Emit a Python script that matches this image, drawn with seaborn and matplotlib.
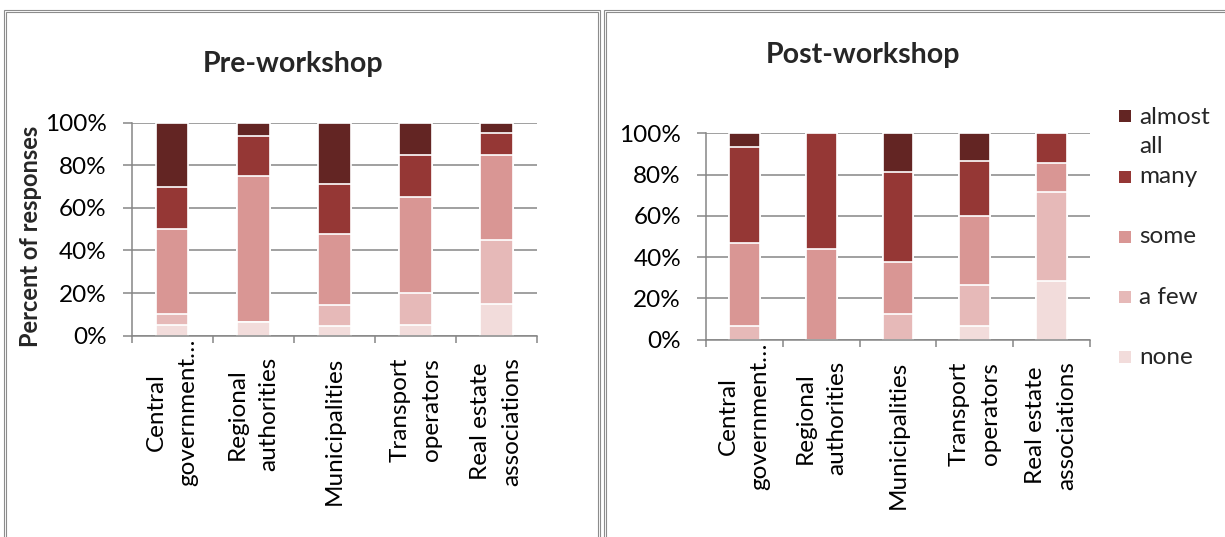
import matplotlib
matplotlib.use("Agg")
import matplotlib.pyplot as plt
from matplotlib.patches import Rectangle
from matplotlib.ticker import PercentFormatter, FixedLocator
import numpy as np
import pandas as pd
import seaborn as sns

# ---- data -----------------------------------------------------------------
categories = ["Central\ngovernment…", "Regional\nauthorities", "Municipalities",
              "Transport\noperators", "Real estate\nassociations"]
levels = ["none", "a few", "some", "many", "almost all"]          # bottom -> top

pre_none       = [5.00, 6.25, 4.76, 5.00, 15.00]
pre_a_few      = [5.00, 0.00, 9.52, 15.00, 30.00]
pre_some       = [40.00, 68.75, 33.33, 45.00, 40.00]
pre_many       = [20.00, 18.75, 23.81, 20.00, 10.00]
pre_almost_all = [30.00, 6.25, 28.57, 15.00, 5.00]

post_none       = [0.00, 0.00, 0.00, 6.67, 28.57]
post_a_few      = [6.67, 0.00, 12.50, 20.00, 42.86]
post_some       = [40.00, 43.75, 25.00, 33.33, 14.29]
post_many       = [46.67, 56.25, 43.75, 26.67, 14.29]
post_almost_all = [6.67, 0.00, 18.75, 13.33, 0.00]

y_ticks = [0, 20, 40, 60, 80, 100]

level_colors = {"almost all": "#632523", "many": "#953735", "some": "#D99694",
                "a few": "#E6B9B8", "none": "#F2DCDB"}
legend_labels = {"almost all": "almost\nall"}

# ---- style ------------------------------------------------------------------
sns.set_theme(style="white")
plt.rcParams["font.family"] = ["Lato", "DejaVu Sans"]
GRID = "#868686"
FS = 17.5

W, H = 1225, 537
fig = plt.figure(figsize=(W / 100, H / 100), dpi=100)


def fx(px):
    return px / W


def fy(py):
    return 1 - py / H


def long_table(none, a_few, some, many, almost_all):
    cols = dict(zip(levels, [none, a_few, some, many, almost_all]))
    rows = []
    for i, cat in enumerate(categories):
        for lev in levels:
            rows.append({"category": cat, "level": lev, "pct": cols[lev][i]})
    df = pd.DataFrame(rows)
    df["top"] = df.groupby("category", sort=False)["pct"].cumsum()
    return df


def draw_panel(ax, df, first_label_lift):
    # stacked bars: paint cumulative totals from the top level down
    for lev in reversed(levels):
        part = df[df["level"] == lev]
        sns.barplot(data=part, x="category", y="top", order=categories,
                    color=level_colors[lev], saturation=1, width=0.40,
                    edgecolor="white", linewidth=1.2, errorbar=None, ax=ax)
    ax.set_xlabel("")
    ax.set_ylabel("")
    ax.set_ylim(0, 100)
    ax.set_xlim(-0.5, len(categories) - 0.5)
    ax.yaxis.set_major_locator(FixedLocator(y_ticks))
    ax.yaxis.set_major_formatter(PercentFormatter(decimals=0))
    ax.set_xticks(np.arange(-0.5, len(categories), 1.0), minor=True)
    ax.set_axisbelow(True)
    ax.yaxis.grid(True, color=GRID, linewidth=1.1)
    ax.xaxis.grid(False)
    for side in ("top", "right"):
        ax.spines[side].set_visible(False)
    for side in ("left", "bottom"):
        ax.spines[side].set_color(GRID)
        ax.spines[side].set_linewidth(1.1)
    ax.tick_params(axis="y", which="major", direction="out", length=6.5,
                   width=1.1, color=GRID, labelsize=FS, pad=11.5,
                   left=True, labelcolor="black")
    ax.tick_params(axis="x", which="major", length=0, labelsize=FS, pad=15.5,
                   labelcolor="black", labelrotation=90)
    ax.tick_params(axis="x", which="minor", direction="out", length=5,
                   width=1.1, color=GRID, bottom=True)
    for lab in ax.get_xticklabels():
        lab.set_multialignment("center")
        lab.set_linespacing(1.6)
        lab.set_va("top")
    ax.get_xticklabels()[0].set_y(first_label_lift)


ax_pre = fig.add_axes([fx(131.7), fy(335.7), (537 - 131.7) / W, (335.7 - 122.7) / H])
ax_post = fig.add_axes([fx(706), fy(339.7), (1090 - 706) / W, (339.7 - 133.3) / H])

draw_panel(ax_pre, long_table(pre_none, pre_a_few, pre_some, pre_many, pre_almost_all),
           19 / 213)
draw_panel(ax_post, long_table(post_none, post_a_few, post_some, post_many, post_almost_all),
           18.7 / 206.4)

# titles and axis caption
fig.text(fx(293), fy(71.7), "Pre-workshop", ha="center", va="baseline",
         fontsize=20.5, fontweight="bold")
fig.text(fx(863), fy(63.3), "Post-workshop", ha="center", va="baseline",
         fontsize=20.5, fontweight="bold")
fig.text(fx(31), fy(236), "Percent of responses", rotation=90, ha="center",
         va="center", fontsize=17, fontweight="bold")

# legend beside the second panel, top level first
legend_y = {"almost all": 116, "many": 176.5, "some": 237, "a few": 297, "none": 357}
for lev in reversed(levels):
    yc = legend_y[lev]
    fig.add_artist(Rectangle((fx(1119), fy(yc + 6)), 12 / W, 12 / H,
                             transform=fig.transFigure,
                             facecolor=level_colors[lev], edgecolor="none"))
    label = legend_labels.get(lev, lev)
    if "\n" in label:
        fig.text(fx(1139), fy(yc + 16), label, ha="left", va="center",
                 fontsize=FS, linespacing=1.45)
    else:
        fig.text(fx(1139), fy(yc), label, ha="left", va="center", fontsize=FS)

# double-line panel frames
for x0, x1 in ((4, 600), (604, 1240)):
    for inset in (0, 2.2):
        fig.add_artist(Rectangle((fx(x0 + inset), fy(560)),
                                 (x1 - x0 - 2 * inset) / W, (560 - 9.5 - inset) / H,
                                 transform=fig.transFigure, fill=False,
                                 edgecolor="#8c8c8c", linewidth=0.8))

fig.savefig("out.png", dpi=100)
